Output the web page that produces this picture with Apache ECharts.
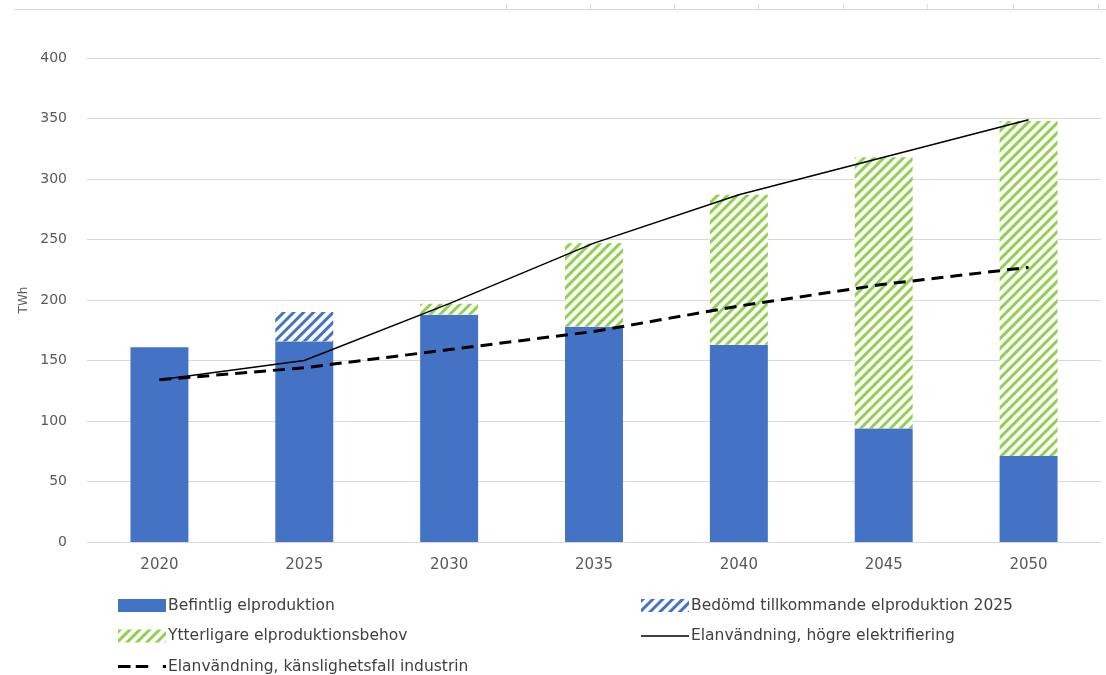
<!DOCTYPE html>
<html>
<head>
<meta charset="utf-8">
<script src="https://cdn.jsdelivr.net/npm/echarts@6/dist/echarts.min.js"></script>
<style>
html,body{margin:0;padding:0;background:#fff;}
#c{width:1106px;height:675px;}
</style>
</head>
<body>
<div id="c"></div>
<script>
const categories = ['2020','2025','2030','2035','2040','2045','2050'];
const befintlig = [161, 166, 188, 178, 163, 94, 71];
const bedomd = ['-', 24, '-', '-', '-', '-', '-'];
const ytterligare = ['-', '-', 9, 69, 124, 224, 277];
const hogre = [134, 150, 197, 247, 287, 318, 349];
const kanslighet = [134, 144, 159, 174, 195, 213, 227];
const yTicks = [0, 50, 100, 150, 200, 250, 300, 350, 400];
const names = {
  bef: 'Befintlig elproduktion',
  bed: 'Bedömd tillkommande elproduktion 2025',
  ytt: 'Ytterligare elproduktionsbehov',
  hog: 'Elanvändning, högre elektrifiering',
  kan: 'Elanvändning, känslighetsfall industrin'
};

const font = 'DejaVu Sans, sans-serif';
const chart = echarts.init(document.getElementById('c'));

const hatch = (color) => ({
  symbol: 'rect',
  symbolSize: 1,
  color: color,
  backgroundColor: '#ffffff',
  dashArrayX: [1, 0],
  dashArrayY: [2.2, 3.6],
  rotation: -Math.PI / 4
});

const topTicks = [506, 590, 674, 758, 843, 927, 1013, 1098];
const graphics = [{
  type: 'line', silent: true,
  shape: {x1: 14, y1: 9.5, x2: 1106, y2: 9.5},
  style: {stroke: '#d9d9d9', lineWidth: 1}
}].concat(topTicks.map(x => ({
  type: 'line', silent: true,
  shape: {x1: x + 0.5, y1: 4, x2: x + 0.5, y2: 9},
  style: {stroke: '#d9d9d9', lineWidth: 1}
})));

const solidIcon = 'path://M0,0h48v1.5h-48z';
const dashIcon = 'path://M0,0h12v3h-12z M17,0h12v3h-12z M43,0h3v3h-3z';

const legendCommon = {
  orient: 'vertical',
  itemWidth: 48,
  itemHeight: 13,
  itemGap: 13.5,
  padding: 0,
  height: 100,
  selectedMode: false,
  textStyle: {fontFamily: font, fontSize: 15.5, color: '#404040', lineHeight: 17, padding: [0, 0, 0, -3]}
};

chart.setOption({
  animation: false,
  backgroundColor: '#ffffff',
  graphic: graphics,
  grid: {left: 87, right: 5, top: 58, bottom: 133},
  legend: [
    Object.assign({}, legendCommon, {left: 118, top: 597, data: [
      {name: names.bef, icon: 'rect'}, {name: names.ytt, icon: 'rect'}, {name: names.kan, icon: dashIcon}]}),
    Object.assign({}, legendCommon, {left: 641, top: 597, data: [
      {name: names.bed, icon: 'rect'}, {name: names.hog, icon: solidIcon}]})
  ],
  xAxis: {
    type: 'category',
    data: categories,
    axisLine: {lineStyle: {color: '#d9d9d9', width: 1}},
    axisTick: {show: false},
    axisLabel: {fontFamily: font, fontSize: 15, color: '#595959', margin: 16}
  },
  yAxis: {
    type: 'value',
    min: 0, max: 400, interval: 50,
    name: 'TWh',
    nameLocation: 'middle',
    nameGap: 55,
    nameTextStyle: {fontFamily: font, fontSize: 12, color: '#595959'},
    axisLine: {show: false},
    axisTick: {show: false},
    splitLine: {lineStyle: {color: '#d9d9d9', width: 1}},
    axisLabel: {fontFamily: font, fontSize: 14, color: '#595959', margin: 20,
      formatter: v => yTicks.includes(v) ? String(v) : ''}
  },
  series: [
    {name: names.bef, type: 'bar', stack: 'p', data: befintlig, barWidth: '40%',
      itemStyle: {color: '#4472c4'}},
    {name: names.bed, type: 'bar', stack: 'p', data: bedomd, barWidth: '40%',
      itemStyle: {color: '#ffffff', decal: hatch('#4472c4')}},
    {name: names.ytt, type: 'bar', stack: 'p', data: ytterligare, barWidth: '40%',
      itemStyle: {color: '#ffffff', decal: hatch('#92d050')}},
    {name: names.hog, type: 'line', data: hogre, symbol: 'none', z: 5,
      lineStyle: {color: '#000000', width: 1.5}, itemStyle: {color: '#000000'}},
    {name: names.kan, type: 'line', data: kanslighet, symbol: 'none', z: 5,
      lineStyle: {color: '#000000', width: 3, type: [12, 7]}, itemStyle: {color: '#000000'}}
  ]
});
</script>
</body>
</html>
